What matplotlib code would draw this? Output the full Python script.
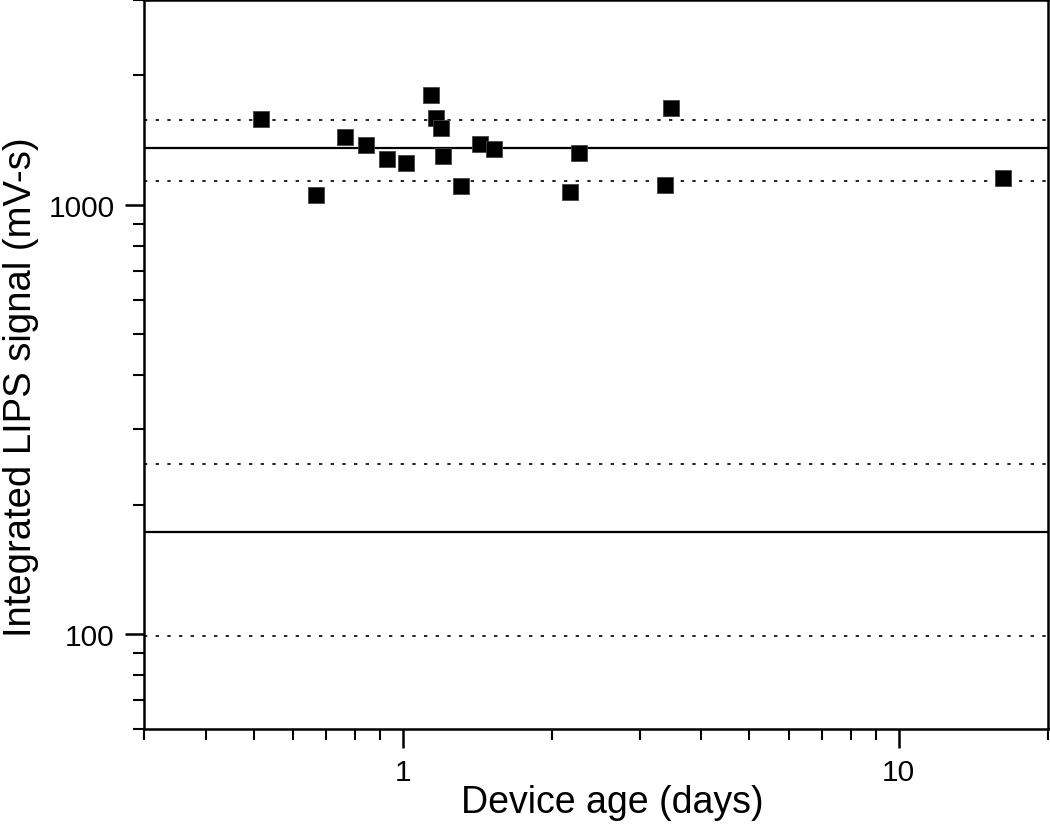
import matplotlib
matplotlib.use('Agg')
import matplotlib.pyplot as plt

plt.rcParams['font.family'] = ['Liberation Sans', 'DejaVu Sans']

# данные: возраст устройства (дни) и интегральный сигнал LIPS (мВ*с)
age_days = [0.518, 0.668, 0.764, 0.843, 0.929, 1.014, 1.138, 1.165, 1.193,
            1.204, 1.308, 1.429, 1.524, 2.168, 2.27, 3.38, 3.476, 16.27]
signal = [1587, 1055, 1440, 1380, 1280, 1253, 1805, 1595, 1512,
          1301, 1107, 1387, 1351, 1072, 1322, 1113, 1683, 1156]

# уровни: средние (сплошные) и границы (пунктир)
solid_levels = [1358, 173]
dotted_levels = [1578, 1137, 249, 98.9]

fig = plt.figure(figsize=(10.5, 8.28), dpi=100)
ax = fig.add_axes([0.137, 0.1184, 0.861, 0.8806])

for lvl in solid_levels:
    ax.axhline(lvl, color='black', lw=1.6, zorder=1)
for lvl in dotted_levels:
    ax.axhline(lvl, color='black', lw=1.2, ls=(0, (2, 5)), zorder=1)

ax.plot(age_days, signal, ls='none', marker='s', ms=12,
        mfc='black', mec='#444444', mew=0.6, zorder=3)

ax.set_xscale('log')
ax.set_yscale('log')
ax.set_xlim(0.3, 20)
ax.set_ylim(60, 3000)

ax.set_xticks([1, 10])
ax.set_xticklabels(['1', '10'])
ax.set_yticks([100, 1000])
ax.set_yticklabels(['100', '1000'])

for s in ax.spines.values():
    s.set_linewidth(1.8)
ax.tick_params(which='major', direction='out', length=14, width=1.8,
               labelsize=21.5, pad=7)
ax.tick_params(which='minor', direction='out', length=8, width=1.5)

ax.set_xlabel('Device age (days)', fontsize=27)
ax.set_ylabel('Integrated LIPS signal (mV-s)', fontsize=27.5)
ax.xaxis.set_label_coords(0.518, -0.075)
ax.yaxis.set_label_coords(-0.116, 0.47)

fig.savefig('out.png', dpi=100)
